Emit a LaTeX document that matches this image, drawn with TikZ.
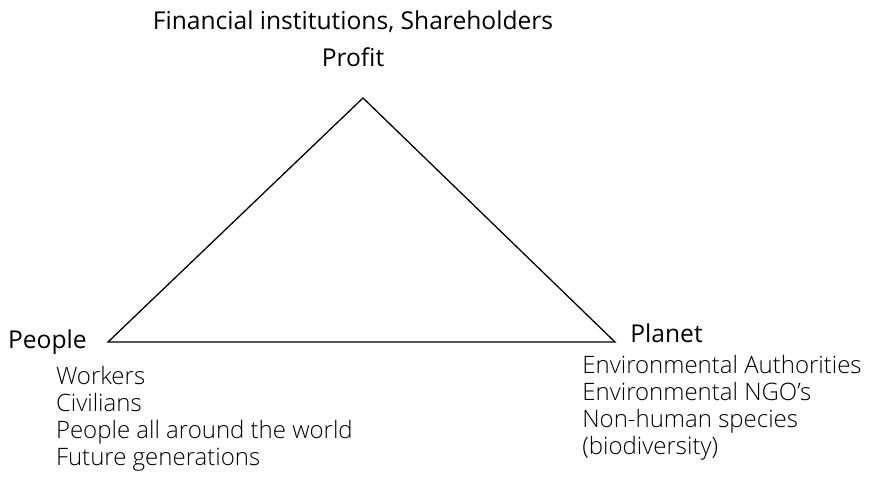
\documentclass[tikz,border=0pt]{standalone}
\usepackage{fontspec}
\setmainfont{Open Sans}
\newfontfamily\lightfont{Open Sans Light}
\usetikzlibrary{positioning}

\tikzset{
    corner/.style={font=\fontsize{12.3}{14}\selectfont, inner sep=0pt},
    member/.style={font=\lightfont\fontsize{12}{13.5}\selectfont, inner sep=0pt},
}

\begin{document}
\begin{tikzpicture}[x=0.5pt, y=-0.5pt]
    \useasboundingbox (0,0) rectangle (871,476);
    % the three P's
    \coordinate (apex) at (363,98);
    \coordinate (left) at (108,342);
    \coordinate (right) at (615,342);
    
    \draw[line width=0.65pt] (apex) -- (left) -- (right) -- cycle;
    
    \node [corner, above=15.5pt of apex, anchor=base, xshift=-5pt] (profit) {Profit};
    \node [corner, left=10.5pt of left] (people) {People};
    \node [corner, right=7.5pt of right, anchor=base west] (planet) {Planet};
    \node [corner, above=18.5pt of profit.base, anchor=base] (finance) {Financial institutions, Shareholders};
    
    % stakeholders
    \node [member, below right=18pt and 24pt of people.base west, anchor=base west] (workers) {Workers};
    \node [member, below=13.5pt of workers.base west, anchor=base west] (civilians) {Civilians};
    \node [member, below=13.5pt of civilians.base west, anchor=base west] (world) {People all around the world};
    \node [member, below=13.5pt of world.base west, anchor=base west] (future) {Future generations};
    
    \node [member, below left=15.5pt and 24pt of planet.base west, anchor=base west] (authorities) {Environmental Authorities};
    \node [member, below=13.5pt of authorities.base west, anchor=base west] (ngo) {Environmental NGO’s};
    \node [member, below=13.5pt of ngo.base west, anchor=base west] (species) {Non-human species};
    \node [member, below=13.5pt of species.base west, anchor=base west] (bio) {(biodiversity)};
\end{tikzpicture}
\end{document}
